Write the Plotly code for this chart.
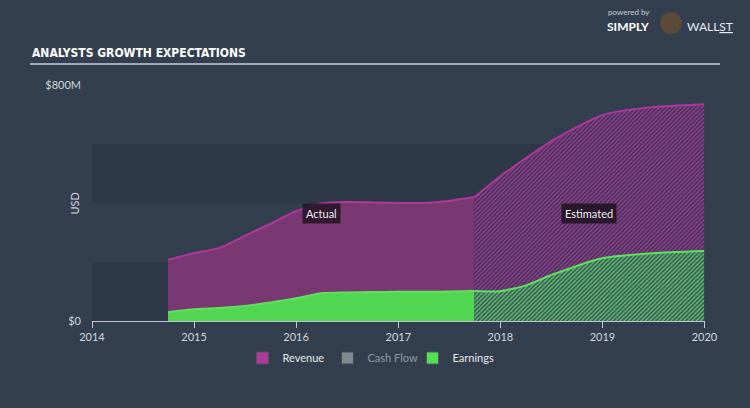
import plotly.graph_objects as go

# ---- data (USD millions) ----
rev_actual_dates = ["2014-09-30", "2014-12-31", "2015-03-31", "2015-06-30", "2015-09-30",
                    "2015-12-31", "2016-03-31", "2016-06-30", "2016-09-30", "2016-12-31",
                    "2017-03-31", "2017-06-30", "2017-09-30"]
rev_actual = [207, 230, 247, 288, 329, 372, 398, 403, 402, 400, 400, 407, 420]

rev_est_dates = ["2017-09-30", "2017-12-31", "2018-06-30", "2018-12-31", "2019-06-30", "2019-12-31"]
rev_est = [420, 490, 608, 698, 725, 735]

earn_actual_dates = rev_actual_dates
earn_actual = [30, 40, 44, 51, 63, 77, 94, 97, 98, 99, 99, 100, 102]

earn_est_dates = ["2017-09-30", "2017-12-31", "2018-03-31", "2018-06-30", "2018-12-31", "2019-06-30", "2019-12-31"]
earn_est = [102, 101, 120, 155, 213, 230, 237]

y_tick_vals = [0, 800]
y_tick_text = ["$0", "$800M"]

BG = "#333f4f"
BAND = "#2d3947"
REV_FILL = "#7a3873"
REV_LINE = "#b0379c"
EARN_FILL = "#51d651"
EARN_LINE = "#5ee25e"
TXT = "#d2d6dc"
FONT = "Lato, Noto Sans, sans-serif"

fig = go.Figure()

fig.add_trace(go.Scatter(
    x=rev_actual_dates, y=rev_actual, mode="lines", line=dict(color=REV_LINE, width=2, shape="spline", smoothing=0.6),
    fill="tozeroy", fillcolor=REV_FILL, name="Revenue", showlegend=False, hoverinfo="skip"))
fig.add_trace(go.Scatter(
    x=rev_est_dates, y=rev_est, mode="lines", line=dict(color=REV_LINE, width=2, shape="spline", smoothing=0.6),
    fill="tozeroy", fillcolor="rgba(0,0,0,0)",
    fillpattern=dict(shape="/", fgcolor="#a23a9a", bgcolor="#3a3750", size=3, solidity=0.45, fillmode="replace"),
    name="Revenue", showlegend=False, hoverinfo="skip"))
fig.add_trace(go.Scatter(
    x=earn_actual_dates, y=earn_actual, mode="lines", line=dict(color=EARN_LINE, width=2, shape="spline", smoothing=0.6),
    fill="tozeroy", fillcolor=EARN_FILL, name="Earnings", showlegend=False, hoverinfo="skip"))
fig.add_trace(go.Scatter(
    x=earn_est_dates, y=earn_est, mode="lines", line=dict(color=EARN_LINE, width=2, shape="spline", smoothing=0.6),
    fill="tozeroy", fillcolor="rgba(0,0,0,0)",
    fillpattern=dict(shape="/", fgcolor="#4fd152", bgcolor="#474c6c", size=3, solidity=0.45, fillmode="replace"),
    name="Earnings", showlegend=False, hoverinfo="skip"))

# legend entries
for nm, col, vis in [("Revenue", "#b0399e", True), ("Cash Flow", "#d0d0d0", "legendonly"), ("Earnings", "#52e052", True)]:
    fig.add_trace(go.Scatter(x=[None], y=[None], mode="markers", name=nm,
                             marker=dict(symbol="square", size=12, color=col, line=dict(width=1, color="#555")),
                             visible=vis, showlegend=True))

# plot area in pixels: x 92..705, y 85..321
L, R, T, B = 92, 45, 85, 87
PW, PH = 750 - L - R, 408 - T - B

def px(xpix):
    return (xpix - L) / PW

def py(ypix):
    return 1 - (ypix - T) / PH

shapes = [
    dict(type="rect", xref="paper", yref="y", x0=0, x1=1, y0=0, y1=200, fillcolor=BAND, line=dict(width=0), layer="below"),
    dict(type="rect", xref="paper", yref="y", x0=0, x1=1, y0=400, y1=600, fillcolor=BAND, line=dict(width=0), layer="below"),
    dict(type="line", xref="paper", yref="paper", x0=px(30), x1=px(720), y0=py(64), y1=py(64),
         line=dict(color="#c9ced6", width=1.5)),
    dict(type="circle", xref="paper", yref="paper", x0=px(660), x1=px(682), y0=py(34), y1=py(12),
         fillcolor="#5b4a3a", line=dict(width=0)),
]

annotations = [
    dict(text="<b>ANALYSTS GROWTH EXPECTATIONS</b>", xref="paper", yref="paper", x=px(30), y=py(53),
         xanchor="left", yanchor="middle", showarrow=False,
         font=dict(family="DejaVu Sans Condensed, Liberation Sans Narrow, sans-serif", size=12, color="#ffffff")),
    dict(text="powered by", xref="paper", yref="paper", x=px(606), y=py(12), xanchor="left", yanchor="middle",
         showarrow=False, font=dict(family=FONT, size=8, color="#c8ccd2")),
    dict(text="<b>SIMPLY</b>", xref="paper", yref="paper", x=px(605), y=py(26), xanchor="left", yanchor="middle",
         showarrow=False, font=dict(family=FONT, size=12, color="#ffffff")),
    dict(text="WALL<u>ST</u>", xref="paper", yref="paper", x=px(685), y=py(26), xanchor="left", yanchor="middle",
         showarrow=False, font=dict(family=FONT, size=12, color="#e8eaee")),
    dict(text="USD", xref="paper", yref="paper", x=px(65), y=py(204), textangle=-90, showarrow=False,
         font=dict(family=FONT, size=11, color=TXT)),
    dict(text="Actual", x="2016-04-01", y=363, xref="x", yref="y", showarrow=False,
         bgcolor="rgba(35,20,38,0.85)", borderpad=3, font=dict(family=FONT, size=11, color="#eeeeee")),
    dict(text="Estimated", x="2018-11-15", y=363, xref="x", yref="y", showarrow=False,
         bgcolor="rgba(35,20,38,0.9)", borderpad=3, font=dict(family=FONT, size=11, color="#eeeeee")),
]

fig.update_layout(
    width=750, height=408,
    margin=dict(l=L, r=R, t=T, b=B, autoexpand=False),
    paper_bgcolor=BG, plot_bgcolor="rgba(0,0,0,0)",
    font=dict(family=FONT, size=11, color=TXT),
    shapes=shapes, annotations=annotations,
    showlegend=True,
    legend=dict(orientation="h", x=px(370), y=py(358), xanchor="center", yanchor="middle",
                font=dict(family=FONT, size=11, color="#e6e8ec"), bgcolor="rgba(0,0,0,0)",
                itemwidth=30, entrywidth=40, itemclick=False, itemdoubleclick=False),
    xaxis=dict(type="date", range=["2014-01-01", "2020-01-03"], dtick="M12", tick0="2014-01-01",
               tickformat="%Y", showgrid=False, zeroline=False, showline=True, linecolor="#c2c7cf", linewidth=1,
               ticks="outside", ticklen=6, tickcolor="#c2c7cf", tickfont=dict(size=11, color=TXT),
               fixedrange=True),
    yaxis=dict(range=[0, 800], tickvals=y_tick_vals, ticktext=y_tick_text, showgrid=False, zeroline=False,
               showline=False, ticks="", tickfont=dict(size=11, color=TXT), ticklabelstandoff=10,
               fixedrange=True),
)

fig.write_html("out.html", config={"displayModeBar": False})
